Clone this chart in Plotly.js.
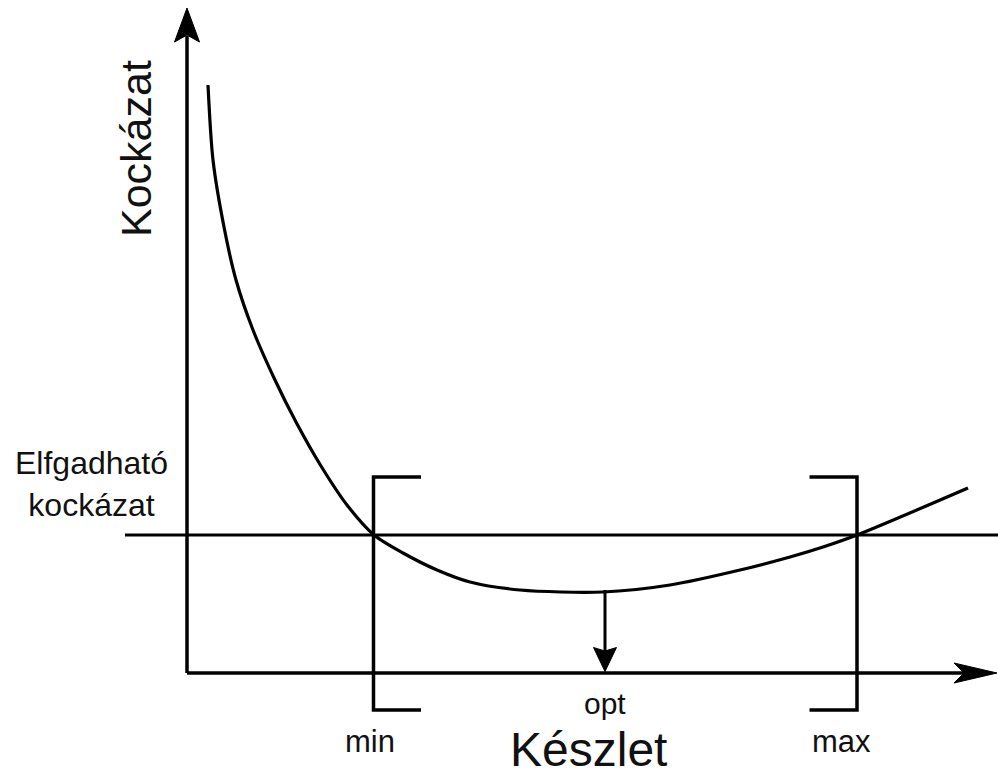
<!DOCTYPE html>
<html>
<head>
<meta charset="utf-8">
<script src="https://cdn.plot.ly/plotly-3.0.1.min.js"></script>
<style>html,body{margin:0;padding:0;background:#fff;}#chart{width:998px;height:781px;}</style>
</head>
<body>
<div id="chart"></div>
<script>
// Risk curve (Készlet -> Kockázat)
const stockX = [2.1, 2.6, 3.7, 4.9, 6.6, 8.8, 10.9, 13.4, 16.0, 18.7, 21.6, 25.0, 28.3, 33.3, 41.6, 48.3, 55.3, 60.3, 63.6, 67.0, 78.1];
const riskY  = [58.8, 51.3, 44.6, 39.3, 34.3, 29.3, 25.1, 20.7, 16.8, 13.8, 12.0, 10.3, 9.1, 8.3, 8.1, 8.8, 10.3, 11.6, 12.6, 13.8, 18.5];

const acceptableRisk = 13.8;   // "Elfgadható kockázat"
const minStock = 18.65;
const maxStock = 67.0;
const optStock = 41.8;
const optRisk = 8.3;

const labels = {
  yTitle: "Kockázat",
  xTitle: "Készlet",
  accept: "Elfgadható<br>kockázat",
  min: "min",
  max: "max",
  opt: "opt"
};

// axis extents (data units, 1 unit = 10 px)
const xAxisEnd = 81.0;
const yAxisEnd = 66.5;
const hLineStart = -6.2;
const hLineEnd = 81.1;
const bracketTop = 19.6;
const bracketBottom = -3.7;
const bracketTick = 4.75;

const black = '#000';
const lineStyle = (w) => ({color: black, width: w});

const traces = [
  // y axis
  {x: [0, 0], y: [0, yAxisEnd - 2.8], mode: 'lines', line: lineStyle(3.5)},
  // x axis
  {x: [0, xAxisEnd - 3.2], y: [0, 0], mode: 'lines', line: lineStyle(3.5)},
  // acceptable risk line
  {x: [hLineStart, hLineEnd], y: [acceptableRisk, acceptableRisk], mode: 'lines', line: lineStyle(3)},
  // risk curve
  {x: stockX, y: riskY, mode: 'lines', line: {color: black, width: 3.2, shape: 'spline', smoothing: 0.8}},
  // min bracket
  {x: [minStock + bracketTick, minStock, minStock, minStock + bracketTick],
   y: [bracketTop, bracketTop, bracketBottom, bracketBottom], mode: 'lines', line: lineStyle(3.5)},
  // max bracket
  {x: [maxStock - bracketTick, maxStock, maxStock, maxStock - bracketTick],
   y: [bracketTop, bracketTop, bracketBottom, bracketBottom], mode: 'lines', line: lineStyle(3.5)},
  // opt arrow shaft
  {x: [optStock, optStock], y: [optRisk, 2.2], mode: 'lines', line: lineStyle(3)}
];

// arrow head as a path: tip, direction (unit vector), length, half width, notch depth
function arrowHead(tx, ty, dx, dy, len, hw, notch) {
  const bx = tx - dx * len, by = ty - dy * len;
  const px = -dy, py = dx;
  const nx = tx - dx * (len - notch), ny = ty - dy * (len - notch);
  const p = [[tx, ty], [bx + px * hw, by + py * hw], [nx, ny], [bx - px * hw, by - py * hw]];
  return 'M' + p.map(q => q[0] + ',' + q[1]).join('L') + 'Z';
}

const headShape = (path) => ({type: 'path', xref: 'x', yref: 'y', path: path,
  fillcolor: black, line: {color: black, width: 1}});

const shapes = [
  headShape(arrowHead(0, yAxisEnd, 0, 1, 3.4, 1.25, 0.7)),
  headShape(arrowHead(xAxisEnd, 0, 1, 0, 4.3, 1.0, 1.0)),
  headShape(arrowHead(optStock, 0.15, 0, -1, 2.4, 1.15, 0.35))
];

const txtFont = (size) => ({family: 'Liberation Sans, Arial, sans-serif', size: size, color: '#111'});
const ann = (x, y, text, size, extra) => Object.assign({x: x, y: y, xref: 'x', yref: 'y', text: text,
  showarrow: false, font: txtFont(size), xanchor: 'center', yanchor: 'middle'}, extra || {});

const annotations = [
  ann(-5.1, 52.4, labels.yTitle, 43, {textangle: -90}),
  ann(40.1, -7.6, labels.xTitle, 48),
  ann(-9.6, 18.9, labels.accept, 32),
  ann(minStock - 0.4, -6.8, labels.min, 31),
  ann(maxStock - 1.6, -6.8, labels.max, 31),
  ann(optStock, -3.0, labels.opt, 30)
];

const layout = {
  width: 998, height: 781,
  margin: {l: 0, r: 0, t: 0, b: 0},
  paper_bgcolor: '#fff', plot_bgcolor: '#fff',
  showlegend: false,
  xaxis: {range: [-18.7, 81.1], visible: false, fixedrange: true},
  yaxis: {range: [-10.8, 67.3], visible: false, fixedrange: true},
  shapes: shapes,
  annotations: annotations
};

Plotly.newPlot('chart', traces, layout, {displayModeBar: false, staticPlot: true});
</script>
</body>
</html>
